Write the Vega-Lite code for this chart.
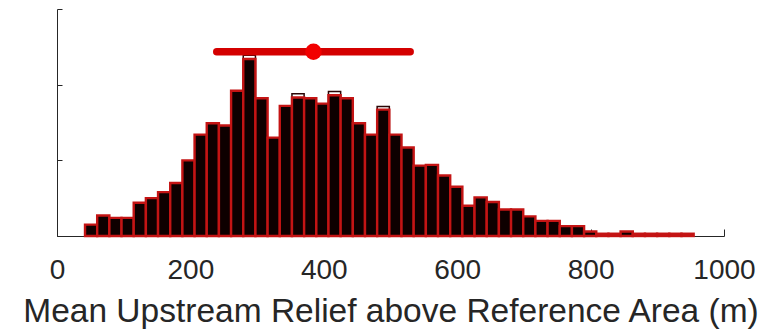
{
  "$schema": "https://vega.github.io/schema/vega-lite/v6.json",
  "width": 667,
  "height": 227,
  "autosize": {"type": "none"},
  "padding": {"left": 57, "top": 9, "right": 50, "bottom": 97},
  "background": "white",
  "config": {
    "view": {"stroke": null},
    "axis": {
      "grid": false,
      "domainColor": "#262626",
      "tickColor": "#262626",
      "labelColor": "#262626",
      "titleColor": "#262626",
      "labelFont": "Liberation Sans",
      "titleFont": "Liberation Sans",
      "domainWidth": 1,
      "tickWidth": 1
    }
  },
  "datasets": {
    "hist": [
      {"lo": 42, "hi": 60.25, "count": 15},
      {"lo": 60.25, "hi": 78.5, "count": 27},
      {"lo": 78.5, "hi": 96.75, "count": 24},
      {"lo": 96.75, "hi": 115, "count": 24},
      {"lo": 115, "hi": 133.25, "count": 44},
      {"lo": 133.25, "hi": 151.5, "count": 50},
      {"lo": 151.5, "hi": 169.75, "count": 58},
      {"lo": 169.75, "hi": 188, "count": 70},
      {"lo": 188, "hi": 206.25, "count": 100},
      {"lo": 206.25, "hi": 224.5, "count": 134},
      {"lo": 224.5, "hi": 242.75, "count": 149},
      {"lo": 242.75, "hi": 261, "count": 146},
      {"lo": 261, "hi": 279.25, "count": 192},
      {"lo": 279.25, "hi": 297.5, "count": 234},
      {"lo": 297.5, "hi": 315.75, "count": 182},
      {"lo": 315.75, "hi": 334, "count": 130},
      {"lo": 334, "hi": 352.25, "count": 172},
      {"lo": 352.25, "hi": 370.5, "count": 183},
      {"lo": 370.5, "hi": 388.75, "count": 182},
      {"lo": 388.75, "hi": 407, "count": 175},
      {"lo": 407, "hi": 425.25, "count": 186},
      {"lo": 425.25, "hi": 443.5, "count": 182},
      {"lo": 443.5, "hi": 461.75, "count": 149},
      {"lo": 461.75, "hi": 480, "count": 134},
      {"lo": 480, "hi": 498.25, "count": 167},
      {"lo": 498.25, "hi": 516.5, "count": 134},
      {"lo": 516.5, "hi": 534.75, "count": 117},
      {"lo": 534.75, "hi": 553, "count": 93},
      {"lo": 553, "hi": 571.25, "count": 94},
      {"lo": 571.25, "hi": 589.5, "count": 80},
      {"lo": 589.5, "hi": 607.75, "count": 65},
      {"lo": 607.75, "hi": 626, "count": 40},
      {"lo": 626, "hi": 644.25, "count": 51},
      {"lo": 644.25, "hi": 662.5, "count": 45},
      {"lo": 662.5, "hi": 680.75, "count": 35},
      {"lo": 680.75, "hi": 699, "count": 35},
      {"lo": 699, "hi": 717.25, "count": 26},
      {"lo": 717.25, "hi": 735.5, "count": 20},
      {"lo": 735.5, "hi": 753.75, "count": 20},
      {"lo": 753.75, "hi": 772, "count": 13},
      {"lo": 772, "hi": 790.25, "count": 13},
      {"lo": 790.25, "hi": 808.5, "count": 6},
      {"lo": 808.5, "hi": 826.75, "count": 3},
      {"lo": 826.75, "hi": 845, "count": 3},
      {"lo": 845, "hi": 863.25, "count": 6},
      {"lo": 863.25, "hi": 881.5, "count": 3},
      {"lo": 881.5, "hi": 899.75, "count": 3},
      {"lo": 899.75, "hi": 918, "count": 3},
      {"lo": 918, "hi": 936.25, "count": 3},
      {"lo": 936.25, "hi": 954.5, "count": 3}
    ],
    "outline": [
      {"lo": 279.25, "hi": 297.5, "count": 239},
      {"lo": 352.25, "hi": 370.5, "count": 188},
      {"lo": 407, "hi": 425.25, "count": 191},
      {"lo": 480, "hi": 498.25, "count": 171}
    ],
    "stats": [
      {"mean": 384.5, "low": 239.5, "high": 529.5, "level": 243.5}
    ]
  },
  "layer": [
    {
      "data": {"name": "outline"},
      "mark": {"type": "bar", "fill": "white", "stroke": "#2a0505", "strokeWidth": 1.5},
      "encoding": {
        "x": {
          "field": "lo", "type": "quantitative",
          "scale": {"domain": [0, 1000], "nice": false},
          "axis": {
            "values": [0, 200, 400, 600, 800, 1000],
            "format": "d",
            "tickSize": -7,
            "labelFontSize": 28,
            "labelPadding": 49,
            "labelBaseline": "alphabetic",
            "labelFlush": false,
            "labelOverlap": false,
            "title": "Mean Upstream Relief above Reference Area (m)",
            "titleFontSize": 33.5,
            "titleFontWeight": "normal",
            "titleY": 85,
            "titleBaseline": "alphabetic"
          }
        },
        "x2": {"field": "hi"},
        "y": {
          "field": "count", "type": "quantitative",
          "scale": {"domain": [0, 300], "nice": false},
          "axis": {"values": [0, 100, 200, 300], "labels": false, "tickSize": -5, "title": null}
        },
        "y2": {"datum": 0}
      }
    },
    {
      "data": {"name": "hist"},
      "mark": {"type": "bar", "fill": "#0e0000", "stroke": "#c41414", "strokeWidth": 2.4},
      "encoding": {
        "x": {"field": "lo", "type": "quantitative"},
        "x2": {"field": "hi"},
        "y": {"field": "count", "type": "quantitative"},
        "y2": {"datum": 0}
      }
    },
    {
      "data": {"name": "stats"},
      "mark": {"type": "rule", "color": "#d40000", "strokeWidth": 7.5, "strokeCap": "round"},
      "encoding": {
        "x": {"field": "low", "type": "quantitative"},
        "x2": {"field": "high"},
        "y": {"field": "level", "type": "quantitative"}
      }
    },
    {
      "data": {"name": "stats"},
      "mark": {"type": "circle", "color": "#f20000", "opacity": 1, "size": 270},
      "encoding": {
        "x": {"field": "mean", "type": "quantitative"},
        "y": {"field": "level", "type": "quantitative"}
      }
    }
  ]
}
